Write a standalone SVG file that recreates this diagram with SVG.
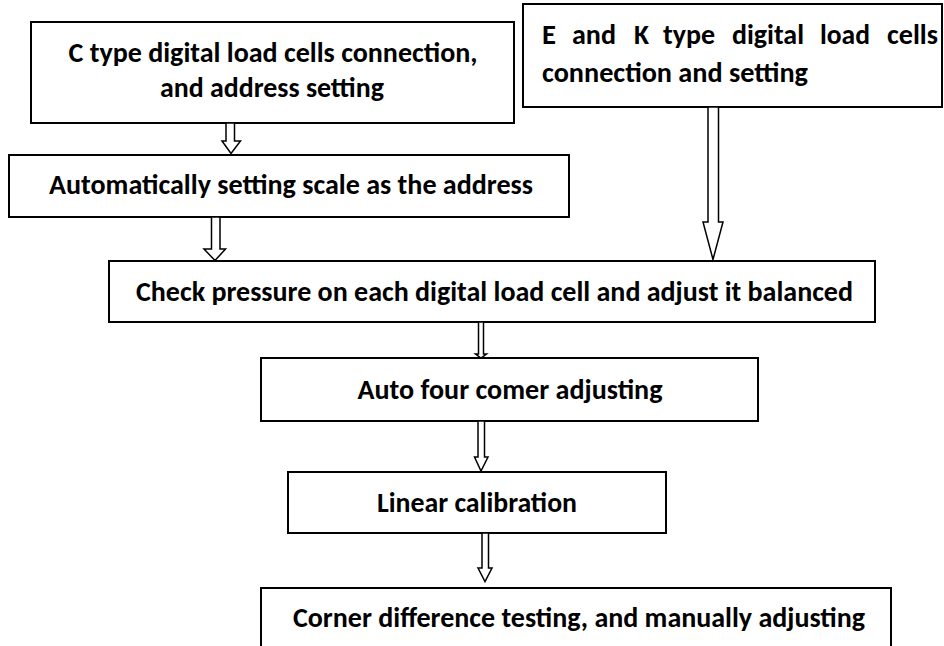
<svg xmlns="http://www.w3.org/2000/svg" width="944" height="646" viewBox="0 0 944 646">
<style>
.box{fill:#fff;stroke:#000;stroke-width:2}
.arr{fill:#fff;stroke:#000;stroke-width:1.5;stroke-linejoin:miter}
text{font-family:Carlito,Lato,"Open Sans",sans-serif;font-weight:bold;font-size:28px;fill:#000}
.m{text-anchor:middle}
</style>
<rect width="944" height="646" fill="#fff"/>
<g id="node-c">
<rect class="box" x="31" y="22" width="483" height="101"/>
<text class="m" x="273" y="62" textLength="409" lengthAdjust="spacingAndGlyphs">C type digital load cells connection,</text>
<text class="m" x="272" y="97" textLength="224" lengthAdjust="spacingAndGlyphs">and address setting</text>
</g>
<g id="node-ek">
<rect class="box" x="523" y="4" width="419" height="103"/>
<text x="542" y="44" textLength="14" lengthAdjust="spacingAndGlyphs">E</text>
<text x="572" y="44" textLength="44" lengthAdjust="spacingAndGlyphs">and</text>
<text x="634" y="44" textLength="15" lengthAdjust="spacingAndGlyphs">K</text>
<text x="663" y="44" textLength="52" lengthAdjust="spacingAndGlyphs">type</text>
<text x="732" y="44" textLength="72" lengthAdjust="spacingAndGlyphs">digital</text>
<text x="820" y="44" textLength="50" lengthAdjust="spacingAndGlyphs">load</text>
<text x="887" y="44" textLength="51" lengthAdjust="spacingAndGlyphs">cells</text>
<text x="542" y="82" textLength="266" lengthAdjust="spacingAndGlyphs">connection and setting</text>
</g>
<g id="node-auto">
<rect class="box" x="9" y="155" width="560" height="62"/>
<text class="m" x="291" y="194" textLength="484" lengthAdjust="spacingAndGlyphs">Automatically setting scale as the address</text>
</g>
<g id="node-check">
<rect class="box" x="109" y="261" width="766" height="61"/>
<text class="m" x="494.5" y="301" textLength="717" lengthAdjust="spacingAndGlyphs">Check pressure on each digital load cell and adjust it balanced</text>
</g>
<g id="node-four">
<rect class="box" x="261" y="358" width="497" height="63"/>
<text class="m" x="510" y="399" textLength="305" lengthAdjust="spacingAndGlyphs">Auto four comer adjusting</text>
</g>
<g id="node-linear">
<rect class="box" x="288" y="472" width="378" height="61"/>
<text class="m" x="477" y="512" textLength="200" lengthAdjust="spacingAndGlyphs">Linear calibration</text>
</g>
<g id="node-corner">
<rect class="box" x="261" y="588" width="630" height="70"/>
<text class="m" x="579" y="627" textLength="572" lengthAdjust="spacingAndGlyphs">Corner difference testing, and manually adjusting</text>
</g>
<g id="connectors">
<polygon class="arr" points="226,123 226,141 222,141 231,153.5 240.5,141 234.5,141 234.5,123"/>
<polygon class="arr" points="211.5,217 211.5,249 204,249 215,260.5 225.5,249 220,249 220,217"/>
<polygon class="arr" points="708,107 708,222 703,222 713,259.5 723,222 718.5,222 718.5,107"/>
<polygon class="arr" points="478.5,322 478.5,354 475.5,354 481,358 486.5,354 483.5,354 483.5,322"/>
<polygon class="arr" points="478,421 478,457 474.5,457 481,471 488,457 484.5,457 484.5,421"/>
<polygon class="arr" points="482,533 482,568 478,568 485,581.5 492,568 488.5,568 488.5,533"/>
</g>
</svg>
